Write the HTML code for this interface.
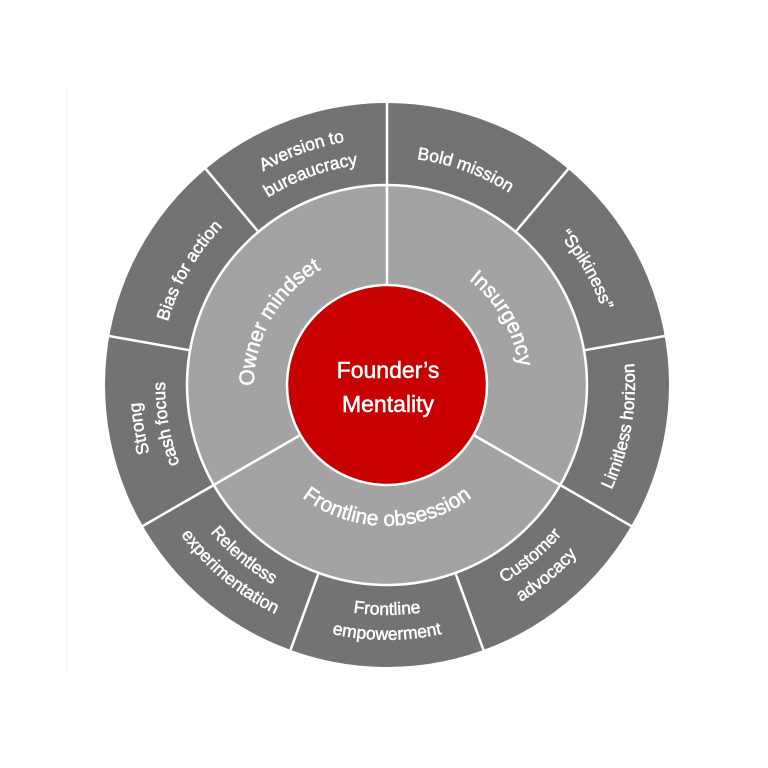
<!DOCTYPE html>
<html><head><meta charset="utf-8"><style>html,body{margin:0;padding:0;background:#fff;}svg{display:block}</style></head>
<body>
<svg width="768" height="768" viewBox="0 0 768 768" xmlns="http://www.w3.org/2000/svg">
<rect width="768" height="768" fill="#fff"/>
<line x1="67" y1="88" x2="67" y2="672" stroke="#efefef" stroke-width="1"/>
<defs>
<path id="p1a" d="M143.8,427.9 A247,247 0 0 1 600.9,261.5"/>
<path id="p1b" d="M168.4,423.5 A222,222 0 0 1 579.3,274"/>
<path id="p2" d="M189.6,271 A228,228 0 0 1 611.5,424.6"/>
<path id="p3" d="M309,170.7 A228,228 0 0 1 533.6,559.6"/>
<path id="p4" d="M387,633 A248,248 0 0 0 471.8,152"/>
<path id="p5a" d="M239.2,561.2 A230,230 0 0 0 586.2,270"/>
<path id="p5b" d="M223.1,580.3 A255,255 0 0 0 607.8,257.5"/>
<path id="p6a" d="M160.5,424.9 A230,230 0 0 0 613.5,424.9"/>
<path id="p6b" d="M135.9,429.3 A255,255 0 0 0 638.1,429.3"/>
<path id="p7a" d="M187.8,270 A230,230 0 0 0 534.8,561.2"/>
<path id="p7b" d="M166.2,257.5 A255,255 0 0 0 550.9,580.3"/>
<path id="p8a" d="M387,632 A247,247 0 0 1 302.5,152.9"/>
<path id="p8b" d="M387,607 A222,222 0 0 1 311.1,176.4"/>
<path id="p9" d="M240.4,559.6 A228,228 0 0 1 465,170.7"/>
<path id="m1" d="M301.5,486.9 A133,133 0 0 1 432.5,260"/>
<path id="m2" d="M341.5,260 A133,133 0 0 1 472.5,486.9"/>
<path id="m3" d="M248.1,409 A141,141 0 0 0 525.9,409"/>
</defs>
<circle cx="387" cy="385" r="282" fill="#737373"/>
<circle cx="387" cy="385" r="200" fill="#a3a3a3" stroke="#fff" stroke-width="2.5"/>
<g stroke="#fff" stroke-width="2.5">
<line x1="387" y1="185" x2="387" y2="100"/>
<line x1="515.6" y1="231.8" x2="568.9" y2="168.2"/>
<line x1="584" y1="350.3" x2="665.7" y2="335.9"/>
<line x1="560.2" y1="485" x2="632.1" y2="526.5"/>
<line x1="455.4" y1="572.9" x2="483.8" y2="650.9"/>
<line x1="318.6" y1="572.9" x2="290.2" y2="650.9"/>
<line x1="213.8" y1="485" x2="141.9" y2="526.5"/>
<line x1="190" y1="350.3" x2="108.3" y2="335.9"/>
<line x1="258.4" y1="231.8" x2="205.1" y2="168.2"/>
<line x1="387" y1="285" x2="387" y2="185"/>
<line x1="473.6" y1="435" x2="560.2" y2="485"/>
<line x1="300.4" y1="435" x2="213.8" y2="485"/>
</g>
<circle cx="387" cy="385" r="100" fill="#c80000" stroke="#fff" stroke-width="2.5"/>
<g fill="#fff" stroke="#fff" stroke-width="0.5" font-family="Liberation Sans, sans-serif" font-size="17.5" text-anchor="middle">
<text><textPath href="#p1a" startOffset="50%">Aversion to</textPath></text>
<text><textPath href="#p1b" startOffset="50%">bureaucracy</textPath></text>
<text><textPath href="#p2" startOffset="50%">Bold mission</textPath></text>
<text><textPath href="#p3" startOffset="50%">“Spikiness”</textPath></text>
<text><textPath href="#p4" startOffset="50%">Limitless horizon</textPath></text>
<text><textPath href="#p5a" startOffset="50%">Customer</textPath></text>
<text><textPath href="#p5b" startOffset="50%">advocacy</textPath></text>
<text><textPath href="#p6a" startOffset="50%">Frontline</textPath></text>
<text><textPath href="#p6b" startOffset="50%">empowerment</textPath></text>
<text><textPath href="#p7a" startOffset="50%">Relentless</textPath></text>
<text><textPath href="#p7b" startOffset="50%">experimentation</textPath></text>
<text><textPath href="#p8a" startOffset="50%">Strong</textPath></text>
<text><textPath href="#p8b" startOffset="50%">cash focus</textPath></text>
<text><textPath href="#p9" startOffset="50%">Bias for action</textPath></text>
</g>
<g fill="#fff" stroke="#fff" stroke-width="0.5" font-family="Liberation Sans, sans-serif" font-size="21" text-anchor="middle">
<text><textPath href="#m1" startOffset="50%">Owner mindset</textPath></text>
<text><textPath href="#m2" startOffset="50%">Insurgency</textPath></text>
<text><textPath href="#m3" startOffset="50%">Frontline obsession</textPath></text>
</g>
<g fill="#fff" stroke="#fff" stroke-width="0.5" font-family="Liberation Sans, sans-serif" font-size="23" text-anchor="middle">
<text x="388" y="378">Founder’s</text>
<text x="388" y="412">Mentality</text>
</g>
</svg>
</body></html>
